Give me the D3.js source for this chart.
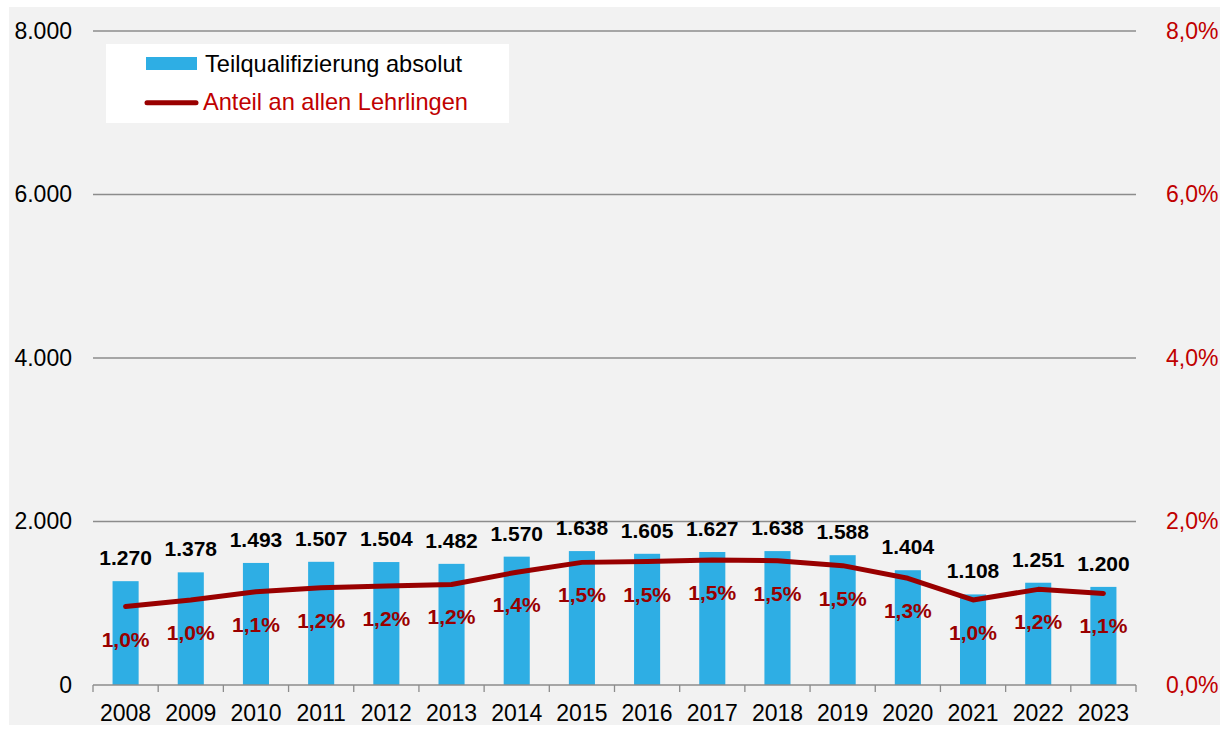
<!DOCTYPE html>
<html lang="de">
<head>
<meta charset="utf-8">
<title>Teilqualifizierung</title>
<script src="https://cdn.jsdelivr.net/npm/d3@7"></script>
<style>
  html, body { margin: 0; padding: 0; background: #ffffff; }
  svg { display: block; font-family: "Liberation Sans", Arial, sans-serif; }
</style>
</head>
<body>
<svg id="chart" width="1223" height="733"></svg>
<script>
// Lehrlinge in Teilqualifizierung (absolut) und Anteil an allen Lehrlingen (%)
const years = ["2008","2009","2010","2011","2012","2013","2014","2015","2016","2017","2018","2019","2020","2021","2022","2023"];
const absolute = [1270, 1378, 1493, 1507, 1504, 1482, 1570, 1638, 1605, 1627, 1638, 1588, 1404, 1108, 1251, 1200];
const share = [0.96, 1.04, 1.14, 1.19, 1.21, 1.23, 1.38, 1.50, 1.51, 1.53, 1.52, 1.46, 1.305, 1.04, 1.17, 1.12];
const leftTicks = [0, 2000, 4000, 6000, 8000];
const rightTicks = [0, 2, 4, 6, 8];
const legendLabels = ["Teilqualifizierung absolut", "Anteil an allen Lehrlingen"];

const barColor = "#2eaee4";
const lineColor = "#990000";
const axisRed = "#c00000";
const gridColor = "#8c8c8c";

const svg = d3.select("#chart");

const plot = { left: 93, right: 1136, top: 31, bottom: 685 };

// panel background
svg.append("rect")
  .attr("x", 9).attr("y", 7).attr("width", 1211).attr("height", 718)
  .attr("fill", "#f2f2f2");

const x = d3.scaleBand().domain(years)
  .range([plot.left, plot.right]).paddingInner(0.6).paddingOuter(0.3);
const yL = d3.scaleLinear().domain([0, 8000]).range([plot.bottom, plot.top]);
const yR = d3.scaleLinear().domain([0, 8]).range([plot.bottom, plot.top]);
const cx = d => x(d) + x.bandwidth() / 2;

const fmtAbs = d3.formatLocale({ decimal: ",", thousands: ".", grouping: [3], currency: ["", "€"] }).format(",d");
const fmtPct = v => d3.format(".1f")(v).replace(".", ",") + "%";

// gridlines
svg.append("g").selectAll("line")
  .data(leftTicks.filter(t => t > 0))
  .join("line")
  .attr("x1", plot.left).attr("x2", plot.right)
  .attr("y1", d => yL(d)).attr("y2", d => yL(d))
  .attr("stroke", gridColor).attr("stroke-width", 1.3);

// left axis
const leftAxis = svg.append("g")
  .attr("transform", `translate(${plot.left},0)`)
  .call(d3.axisLeft(yL).tickValues(leftTicks).tickFormat(fmtAbs).tickSize(0).tickPadding(21));
leftAxis.select(".domain").remove();
leftAxis.selectAll("text")
  .attr("font-size", 23).attr("fill", "#000").attr("font-family", "Liberation Sans, Arial, sans-serif");

// right axis
const rightAxis = svg.append("g")
  .attr("transform", `translate(${plot.right},0)`)
  .call(d3.axisRight(yR).tickValues(rightTicks).tickFormat(d => d3.format(".1f")(d).replace(".", ",") + "%").tickSize(0).tickPadding(30));
rightAxis.select(".domain").remove();
rightAxis.selectAll("text")
  .attr("font-size", 23).attr("fill", axisRed).attr("font-family", "Liberation Sans, Arial, sans-serif");

// bars
svg.append("g").selectAll("rect")
  .data(years)
  .join("rect")
  .attr("x", d => x(d))
  .attr("y", (d, i) => yL(absolute[i]))
  .attr("width", x.bandwidth())
  .attr("height", (d, i) => yL(0) - yL(absolute[i]))
  .attr("fill", barColor);

// category axis: baseline and boundary ticks
const bottom = svg.append("g").attr("transform", `translate(0,${plot.bottom})`);
bottom.append("line")
  .attr("x1", plot.left).attr("x2", plot.right)
  .attr("stroke", gridColor).attr("stroke-width", 1.3);
const boundaries = years.map(d => x(d) - x.step() * x.paddingOuter()).concat([plot.right]);
bottom.selectAll("line.tick")
  .data(boundaries)
  .join("line")
  .attr("class", "tick")
  .attr("x1", d => d).attr("x2", d => d)
  .attr("y1", 0).attr("y2", 7)
  .attr("stroke", gridColor).attr("stroke-width", 1.3);
bottom.selectAll("text")
  .data(years)
  .join("text")
  .attr("x", d => cx(d))
  .attr("y", 36)
  .attr("text-anchor", "middle")
  .attr("font-size", 23)
  .attr("fill", "#000")
  .text(d => d);

// share line
const line = d3.line()
  .x((d, i) => cx(years[i]))
  .y(d => yR(d));
svg.append("path")
  .datum(share)
  .attr("d", line)
  .attr("fill", "none")
  .attr("stroke", lineColor)
  .attr("stroke-width", 5)
  .attr("stroke-linejoin", "round")
  .attr("stroke-linecap", "round");

// value labels above bars
svg.append("g").selectAll("text")
  .data(years)
  .join("text")
  .attr("x", d => cx(d))
  .attr("y", (d, i) => yL(absolute[i]) - 16)
  .attr("text-anchor", "middle")
  .attr("font-size", 21)
  .attr("font-weight", "bold")
  .attr("fill", "#000")
  .text((d, i) => fmtAbs(absolute[i]));

// share labels below the line
svg.append("g").selectAll("text")
  .data(years)
  .join("text")
  .attr("x", d => cx(d))
  .attr("y", (d, i) => yR(share[i]) + 40)
  .attr("text-anchor", "middle")
  .attr("font-size", 21)
  .attr("font-weight", "bold")
  .attr("fill", lineColor)
  .text((d, i) => fmtPct(share[i]));

// legend
const legend = svg.append("g");
legend.append("rect")
  .attr("x", 106).attr("y", 44).attr("width", 403).attr("height", 79)
  .attr("fill", "#ffffff");
legend.append("rect")
  .attr("x", 146).attr("y", 57).attr("width", 51).attr("height", 13)
  .attr("fill", barColor);
legend.append("text")
  .attr("x", 205).attr("y", 72)
  .attr("font-size", 23.6).attr("fill", "#000")
  .text(legendLabels[0]);
legend.append("line")
  .attr("x1", 147).attr("x2", 196).attr("y1", 102.7).attr("y2", 102.7)
  .attr("stroke", lineColor).attr("stroke-width", 5).attr("stroke-linecap", "round");
legend.append("text")
  .attr("x", 203).attr("y", 110)
  .attr("font-size", 23.6).attr("fill", axisRed)
  .text(legendLabels[1]);
</script>
</body>
</html>
